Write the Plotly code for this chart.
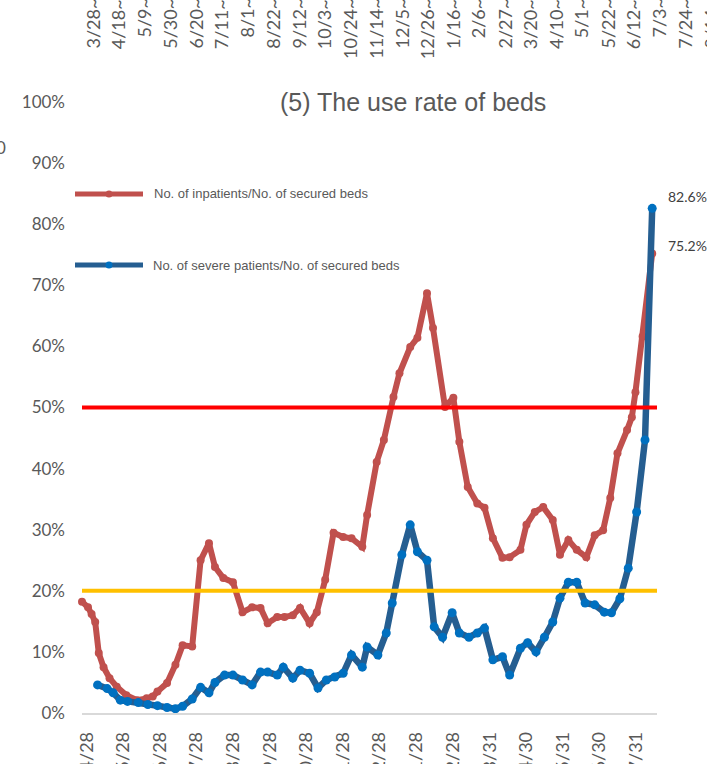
import plotly.graph_objects as go

# ---------------- data ----------------
red_dates = ["2020-04-24","2020-04-29","2020-05-02","2020-05-05","2020-05-08","2020-05-12","2020-05-17","2020-05-23","2020-05-31",
             "2020-06-09","2020-06-17","2020-06-22","2020-06-26","2020-07-04","2020-07-11","2020-07-17","2020-07-25",
             "2020-08-01","2020-08-08","2020-08-13","2020-08-20","2020-08-28","2020-09-05","2020-09-13","2020-09-20","2020-09-26",
             "2020-10-04","2020-10-10","2020-10-17","2020-10-23","2020-10-31","2020-11-06","2020-11-13","2020-11-20","2020-11-28",
             "2020-12-05","2020-12-14","2020-12-18","2020-12-26","2021-01-01","2021-01-09","2021-01-14","2021-01-23","2021-01-29",
             "2021-02-06","2021-02-11","2021-02-21","2021-02-28","2021-03-05","2021-03-12","2021-03-20","2021-03-26",
             "2021-04-02","2021-04-10","2021-04-16","2021-04-25","2021-04-30","2021-05-07","2021-05-14","2021-05-22","2021-05-28",
             "2021-06-04","2021-06-11","2021-06-19","2021-06-26","2021-07-03","2021-07-09","2021-07-15","2021-07-23","2021-07-27",
             "2021-07-30","2021-08-05","2021-08-13"]
red_vals = [18.2,17.3,16.2,14.9,9.8,7.5,5.7,4.3,2.9,2.1,2.4,2.7,3.5,4.9,7.9,11.1,10.9,25.0,27.8,23.9,22.1,21.4,16.5,17.3,17.2,
            14.7,15.7,15.7,16.0,17.2,14.7,16.5,21.8,29.5,28.8,28.6,27.2,32.4,41.1,44.7,51.7,55.6,59.9,61.4,68.7,63.0,50.1,51.6,
            44.4,37.0,34.3,33.6,28.6,25.4,25.5,26.7,30.8,32.9,33.7,31.6,25.9,28.3,26.7,25.5,29.1,29.9,35.2,42.5,46.3,48.4,52.5,
            61.6,75.2]

blue_dates = ["2020-05-07","2020-05-15","2020-05-20","2020-05-26","2020-06-01","2020-06-10","2020-06-18","2020-06-26","2020-07-04",
              "2020-07-11","2020-07-17","2020-07-25","2020-08-01","2020-08-08","2020-08-13","2020-08-21","2020-08-28","2020-09-05",
              "2020-09-13","2020-09-20","2020-09-26","2020-10-04","2020-10-09","2020-10-17","2020-10-23","2020-10-31","2020-11-07",
              "2020-11-14","2020-11-21","2020-11-28","2020-12-05","2020-12-14","2020-12-18","2020-12-27","2021-01-03","2021-01-08",
              "2021-01-16","2021-01-23","2021-01-29","2021-02-06","2021-02-12","2021-02-19","2021-02-27","2021-03-05","2021-03-13",
              "2021-03-20","2021-03-26","2021-04-02","2021-04-10","2021-04-16","2021-04-25","2021-05-01","2021-05-08","2021-05-15",
              "2021-05-22","2021-05-28","2021-06-04","2021-06-11","2021-06-18","2021-06-26","2021-07-04","2021-07-10","2021-07-17",
              "2021-07-24","2021-07-31","2021-08-07","2021-08-13"]
blue_vals = [4.6,4.0,3.3,2.1,1.9,1.7,1.4,1.2,0.9,0.7,1.1,2.3,4.2,3.3,5.0,6.2,6.2,5.4,4.6,6.7,6.7,6.2,7.5,5.7,7.0,6.5,4.1,5.4,
             5.9,6.5,9.5,7.5,10.8,9.5,13.1,18.0,25.9,30.8,26.4,25.0,14.1,12.4,16.4,13.1,12.4,13.1,13.9,8.7,9.2,6.2,10.6,11.5,
             10.0,12.4,14.9,18.8,21.4,21.4,18.0,17.7,16.5,16.4,18.7,23.7,32.9,44.7,82.6]

red_name = "No. of inpatients/No. of secured beds"
blue_name = "No. of severe patients/No. of secured beds"

thresholds = [50, 20]
threshold_colors = ["#FF0000", "#FFC000"]

x_tick_dates = ["2020-04-28","2020-05-28","2020-06-28","2020-07-28","2020-08-28","2020-09-28","2020-10-28","2020-11-28",
                "2020-12-28","2021-01-28","2021-02-28","2021-03-31","2021-04-30","2021-05-31","2021-06-30","2021-07-31"]
x_tick_text = ["4/28","5/28","6/28","7/28","8/28","9/28","10/28","11/28","12/28","1/28","2/28","3/31","4/30","5/31","6/30","7/31"]
y_tick_vals = [0,10,20,30,40,50,60,70,80,90,100]
y_tick_text = ["0%","10%","20%","30%","40%","50%","60%","70%","80%","90%","100%"]

# tick labels of the neighbouring chart, visible at the top edge of the crop
top_labels = ["3/28~","4/18~","5/9~","5/30~","6/20~","7/11~","8/1~","8/22~","9/12~","10/3~","10/24~","11/14~","12/5~",
              "12/26~","1/16~","2/6~","2/27~","3/20~","4/10~","5/1~","5/22~","6/12~","7/3~","7/24~","8/14~"]

title_text = "(5) The use rate of beds"

# ---------------- layout geometry ----------------
W, H = 707, 764
ML, MR, MT, MB = 82, 50, 102, 51
PW, PH = W - ML - MR, H - MT - MB

def px(x):
    return (x - ML) / PW

def py(y):
    return (H - MB - y) / PH

GRAY = "#595959"
CAL = "Lato, 'Open Sans', sans-serif"
ARIAL = "'Liberation Sans', Arial, sans-serif"

fig = go.Figure()

fig.add_trace(go.Scatter(
    x=red_dates, y=red_vals, mode="lines+markers", name=red_name,
    line=dict(color="#C0504D", width=6), marker=dict(color="#C0504D", size=8),
    cliponaxis=False, showlegend=False))
fig.add_trace(go.Scatter(
    x=blue_dates, y=blue_vals, mode="lines+markers", name=blue_name,
    line=dict(color="#255E91", width=6.5), marker=dict(color="#0070C0", size=9),
    cliponaxis=False, showlegend=False))

shapes = []
for v, c in zip(thresholds, threshold_colors):
    shapes.append(dict(type="line", xref="x domain", yref="y", x0=0, x1=1, y0=v, y1=v,
                       line=dict(color=c, width=4), layer="above"))

# manual legend
legend_rows = [(red_name, "#C0504D", "#C0504D", 194, 152), (blue_name, "#255E91", "#0070C0", 265, 151)]
annotations = []
for name, lc, mc, yy, tx in legend_rows:
    shapes.append(dict(type="line", xref="paper", yref="paper", x0=px(75), x1=px(143), y0=py(yy), y1=py(yy),
                       line=dict(color=lc, width=5), layer="above"))
    shapes.append(dict(type="circle", xref="paper", yref="paper", xsizemode="pixel", ysizemode="pixel",
                       xanchor=px(109), yanchor=py(yy), x0=-3.5, x1=3.5, y0=-3.5, y1=3.5,
                       fillcolor=mc, line=dict(width=0), layer="above"))
    annotations.append(dict(x=px(tx), y=py(yy), xref="paper", yref="paper", text=name, showarrow=False,
                            xanchor="left", yanchor="middle", font=dict(family=ARIAL, size=13, color=GRAY)))

# end labels
annotations.append(dict(x=blue_dates[-1], y=blue_vals[-1], text=f"{blue_vals[-1]:.1f}%", showarrow=False,
                        xanchor="left", yanchor="middle", xshift=14, yshift=12,
                        font=dict(family=CAL, size=14, color="#404040")))
annotations.append(dict(x=red_dates[-1], y=red_vals[-1], text=f"{red_vals[-1]:.1f}%", showarrow=False,
                        xanchor="left", yanchor="middle", xshift=14, yshift=8,
                        font=dict(family=CAL, size=14, color="#404040")))

# title
annotations.append(dict(x=px(413), y=py(102), xref="paper", yref="paper", text=title_text, showarrow=False,
                        xanchor="center", yanchor="middle", font=dict(family=ARIAL, size=25, color=GRAY)))

# neighbouring chart's labels at top edge
for i, t in enumerate(top_labels):
    annotations.append(dict(x=px(92.5 + 25.75 * i), y=py(-3), xref="paper", yref="paper", text=t,
                            showarrow=False, textangle=-90, xanchor="center", yanchor="top",
                            font=dict(family=CAL, size=18, color=GRAY)))
# cut-off character at left edge
annotations.append(dict(x=px(-6), y=py(147), xref="paper", yref="paper", text="0", showarrow=False,
                        xanchor="left", yanchor="middle", font=dict(family=CAL, size=17, color=GRAY)))

fig.update_layout(
    width=W, height=H,
    margin=dict(l=ML, r=MR, t=MT, b=MB, pad=0, autoexpand=False),
    paper_bgcolor="white", plot_bgcolor="white",
    showlegend=False, hovermode=False,
    shapes=shapes, annotations=annotations,
    xaxis=dict(type="date", range=["2020-04-24", "2021-08-17"], automargin=False,
               tickvals=x_tick_dates, ticktext=x_tick_text, tickangle=-90,
               tickfont=dict(family=CAL, size=18, color=GRAY),
               showgrid=False, zeroline=False, showline=True, linecolor="#D9D9D9", linewidth=1.5,
               ticks="", ticklabelstandoff=10),
    yaxis=dict(range=[0, 100], tickvals=y_tick_vals, ticktext=y_tick_text, automargin=False,
               tickfont=dict(family=CAL, size=17, color=GRAY),
               showgrid=False, zeroline=False, showline=False, ticks="", ticklabelstandoff=16),
)

fig.write_html("out.html", config={"displayModeBar": False},
               post_script="document.body.style.margin='0';document.body.style.padding='0';")
